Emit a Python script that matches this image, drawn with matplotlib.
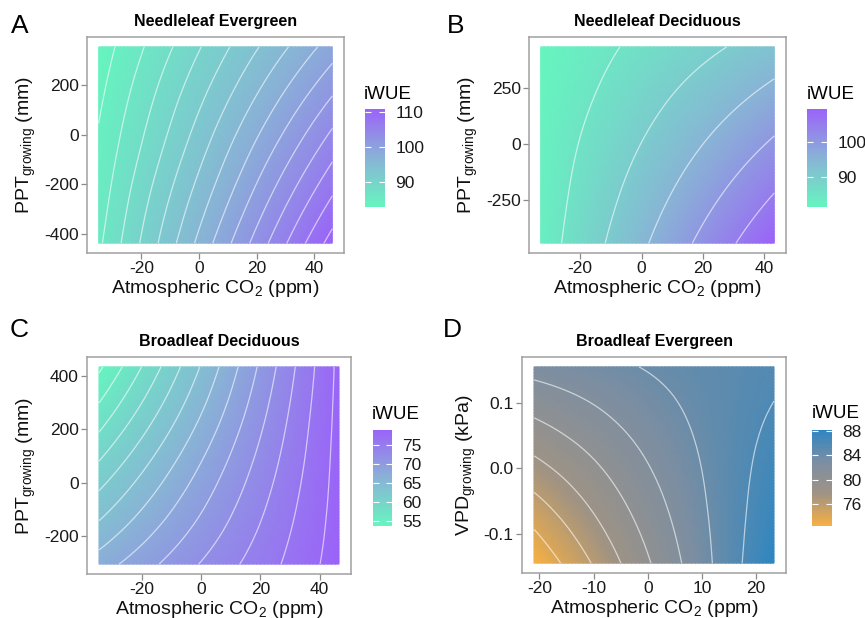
import numpy as np
import matplotlib
matplotlib.use("Agg")
import matplotlib.pyplot as plt
import matplotlib.tri as mtri
from matplotlib.colors import LinearSegmentedColormap, Normalize
from matplotlib.cm import ScalarMappable

plt.rcParams['font.family'] = ['Liberation Sans', 'DejaVu Sans']
plt.rcParams['mathtext.fontset'] = 'custom'
plt.rcParams['mathtext.rm'] = 'Liberation Sans'
plt.rcParams['axes.unicode_minus'] = False

# ---- data: iWUE surfaces (rows = y from low to high) ----
titles = ["Needleleaf Evergreen", "Needleleaf Deciduous",
          "Broadleaf Deciduous", "Broadleaf Evergreen"]
letters = ["A", "B", "C", "D"]

co2_a = [-34.8, -14.5, 5.75, 26.0, 46.3]
ppt_a = [-439, -240.5, -42, 156.5, 355]
iwue_a = [[85.6, 91.9, 98.3, 104.6, 110.9],
          [84.9, 90.7, 96.4, 102.2, 107.9],
          [84.3, 89.4, 94.6, 99.8, 105.0],
          [83.6, 88.2, 92.8, 97.4, 102.0],
          [82.9, 86.9, 91.0, 95.0, 99.0]]

co2_b = [-32.9, -13.85, 5.2, 24.25, 43.3]
ppt_b = [-440, -221.75, -3.5, 214.75, 433]
iwue_b = [[82.6, 89.3, 96.0, 102.7, 109.4],
          [82.3, 88.0, 93.7, 99.4, 105.1],
          [82.0, 86.7, 91.4, 96.1, 100.8],
          [81.6, 85.3, 89.1, 92.8, 96.5],
          [81.3, 84.0, 86.8, 89.5, 92.2]]

co2_c = [-34.5, -14.25, 6.0, 26.25, 46.5]
ppt_c = [-306, -121, 64, 249, 434]
iwue_c = [[67.0, 70.0, 73.0, 75.9, 79.0],
          [63.6, 67.4, 71.2, 75.0, 78.8],
          [60.3, 64.9, 69.5, 74.1, 78.7],
          [56.9, 62.3, 67.7, 73.2, 78.6],
          [53.6, 59.8, 66.0, 72.3, 78.5]]

co2_d = [-21.0, -9.9, 1.15, 12.2, 23.3]
vpd_d = [-0.1455, -0.0703, 0.005, 0.0803, 0.1556]
iwue_d = [[72.3, 76.2, 80.2, 84.1, 88.2],
          [74.8, 78.0, 81.2, 84.3, 87.5],
          [77.5, 79.8, 82.2, 84.5, 86.9],
          [80.1, 81.6, 83.2, 84.7, 86.2],
          [82.7, 83.4, 84.2, 84.9, 85.6]]

levels_a = np.arange(84, 111, 2)
levels_b = [85, 90, 95, 100, 105]
levels_c = np.arange(54, 79, 2)
levels_d = [74, 76, 78, 80, 82, 84, 86]

xticks_a = [-20, 0, 20, 40]
yticks_a = [-400, -200, 0, 200]
yticks_b = [-250, 0, 250]
yticks_c = [-200, 0, 200, 400]
xticks_d = [-20, -10, 0, 10, 20]
yticks_d = [-0.1, 0.0, 0.1]
cbticks = [[90, 100, 110], [90, 100], [55, 60, 65, 70, 75], [76, 80, 84, 88]]

green_purple = LinearSegmentedColormap.from_list(
    "gp", ["#66F5BF", "#89B3D6", "#9B63F9"])
orange_blue = LinearSegmentedColormap.from_list(
    "ob", ["#F8B043", "#A09384", "#7C8EA2", "#2E86C2"])


def grid_tri(x, y):
    X, Y = np.meshgrid(x, y)
    nx = len(x)
    tris = []
    for j in range(len(y) - 1):
        for i in range(nx - 1):
            a = j * nx + i
            tris.append([a, a + 1, a + nx + 1])
            tris.append([a, a + nx + 1, a + nx])
    return mtri.Triangulation(X.ravel(), Y.ravel(), tris)


fig = plt.figure(figsize=(8.65, 6.18), dpi=100)
W, H = 865, 618


def px_axes(x0, y0, x1, y1):
    return fig.add_axes([x0 / W, 1 - y1 / H, (x1 - x0) / W, (y1 - y0) / H])


panels = [
    dict(x=co2_a, y=ppt_a, z=iwue_a, lev=levels_a, cmap=green_purple,
         frame=(87, 37, 344, 253), cbar=(365, 109, 385, 207), cbt=(364, 99),
         xt=xticks_a, yt=yticks_a, ylab="PPT$_{\\mathregular{growing}}$ (mm)",
         let=(11, 33), tfmt=None),
    dict(x=co2_b, y=ppt_b, z=iwue_b, lev=levels_b, cmap=green_purple,
         frame=(529, 37, 786, 253), cbar=(807, 109, 827, 207), cbt=(807, 99),
         xt=xticks_a, yt=yticks_b, ylab="PPT$_{\\mathregular{growing}}$ (mm)",
         let=(447, 33), tfmt=None),
    dict(x=co2_c, y=ppt_c, z=iwue_c, lev=levels_c, cmap=green_purple,
         frame=(87, 357, 351, 574), cbar=(373, 430, 392, 526), cbt=(372, 419),
         xt=xticks_a, yt=yticks_c, ylab="PPT$_{\\mathregular{growing}}$ (mm)",
         let=(10, 337), tfmt=None),
    dict(x=co2_d, y=vpd_d, z=iwue_d, lev=levels_d, cmap=orange_blue,
         frame=(522, 357, 786, 573), cbar=(812, 430, 832, 526), cbt=(812, 418),
         xt=xticks_d, yt=yticks_d, ylab="VPD$_{\\mathregular{growing}}$ (kPa)",
         let=(443, 337), tfmt="{:.1f}"),
]

for k, p in enumerate(panels):
    ax = px_axes(*p["frame"])
    z = np.array(p["z"], dtype=float)
    norm = Normalize(vmin=z.min(), vmax=z.max())
    tri = grid_tri(p["x"], p["y"])
    refiner = mtri.UniformTriRefiner(tri)
    tri_r, z_r = refiner.refine_field(z.ravel(), subdiv=4)
    ax.tripcolor(tri_r, z_r, cmap=p["cmap"], norm=norm, shading="gouraud",
                 rasterized=True)
    ax.tricontour(tri_r, z_r, levels=p["lev"], colors="white",
                  linewidths=0.9, alpha=0.6)

    xr = p["x"][-1] - p["x"][0]
    yr = p["y"][-1] - p["y"][0]
    ax.set_xlim(p["x"][0] - 0.05 * xr, p["x"][-1] + 0.05 * xr)
    ax.set_ylim(p["y"][0] - 0.05 * yr, p["y"][-1] + 0.05 * yr)
    ax.set_xticks(p["xt"])
    ax.set_yticks(p["yt"])
    if p["tfmt"]:
        ax.set_yticklabels([p["tfmt"].format(v) for v in p["yt"]])
    for s in ax.spines.values():
        s.set_color("#A0A0A0")
        s.set_linewidth(1.1)
    ax.tick_params(length=4, width=0.9, color="#8A8A8A", labelsize=12.5,
                   labelcolor="#1A1A1A", pad=2)
    ax.set_xlabel("Atmospheric CO$_\\mathregular{2}$ (ppm)", fontsize=14,
                  labelpad=1, color="#111111")
    ax.set_ylabel(p["ylab"], fontsize=14, labelpad=4, color="#111111")
    ax.set_title(titles[k], fontsize=11.5, fontweight="bold", pad=8)

    fig.text(p["let"][0] / W, 1 - p["let"][1] / H, letters[k], fontsize=19,
             va="baseline", ha="left")

    cax = px_axes(*p["cbar"])
    cb = fig.colorbar(ScalarMappable(norm=norm, cmap=p["cmap"]), cax=cax,
                      ticks=cbticks[k])
    cb.outline.set_visible(False)
    cax.tick_params(direction="in", length=4, width=0.8, color="white",
                    left=True, right=True, labelsize=12.5, pad=7.5,
                    labelcolor="#1A1A1A")
    fig.text(p["cbt"][0] / W, 1 - p["cbt"][1] / H, "iWUE", fontsize=13.5,
             va="baseline", ha="left")

fig.savefig("out.png", dpi=100)
